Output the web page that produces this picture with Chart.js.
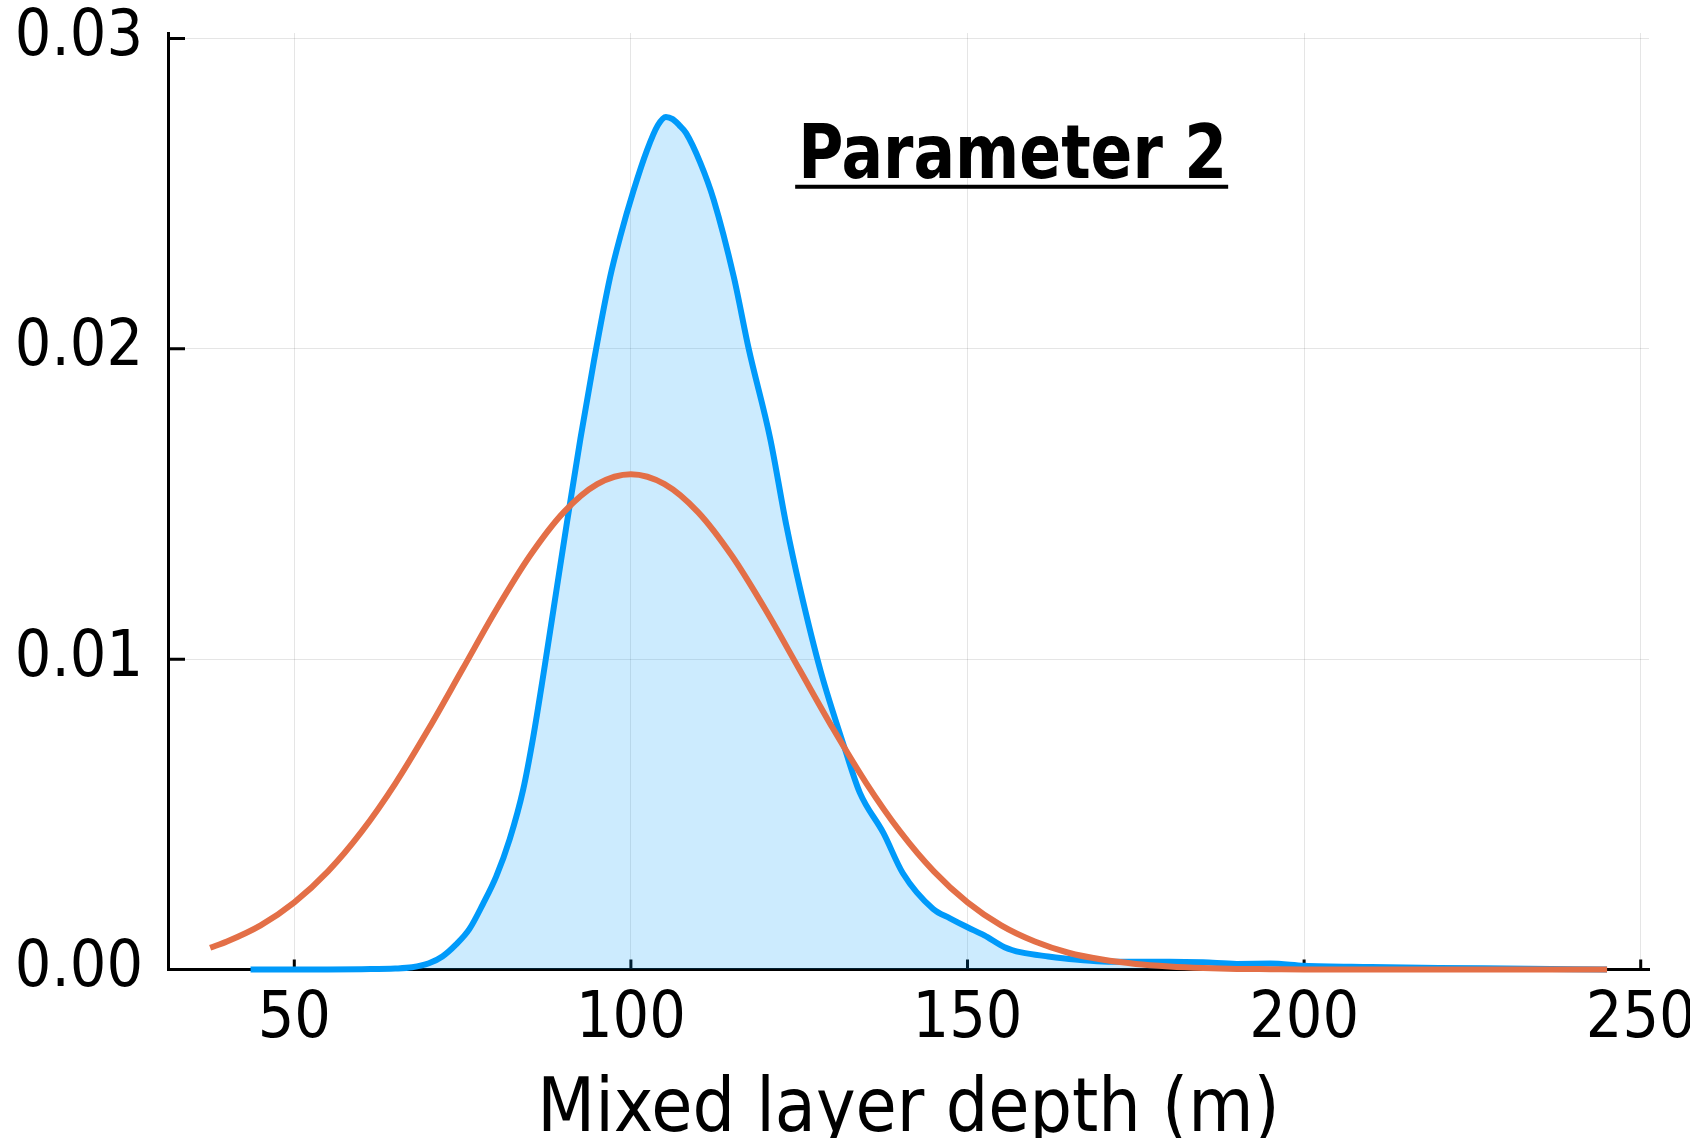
<!DOCTYPE html>
<html><head><meta charset="utf-8">
<script src="https://cdn.jsdelivr.net/npm/chart.js@4/dist/chart.umd.min.js"></script>
<style>html,body{margin:0;padding:0;background:#fff;overflow:hidden}</style>
</head><body>
<canvas id="c" width="1690" height="1138"></canvas>
<script>
// ---- data ----
const xTicks = [50, 100, 150, 200, 250];
const yTicks = [0, 0.01, 0.02, 0.03];
const xTitle = 'Mixed layer depth (m)';
const panelTitle = 'Parameter 2';

// kernel density (blue, filled)
const kdeX = [43.5,50,55,60,65,67.5,70,72,74,76,78,80,82,84,85.5,87,88.5,90.5,92.5,94.5,96.9,98.4,100.4,102.4,104,105.2,106.2,107.2,108.2,110.3,112.3,115.3,117.5,120.7,123.1,125.1,128.2,131.8,134,137.5,140.4,144.9,147.4,150,152.5,155.5,158,162,166,170,175,180,185,190,195,200,210,220,230,240,245];
const kdeY = [0,0,0,0.00001,0.00003,0.00007,0.0002,0.00042,0.0008,0.0013,0.0021,0.003,0.0042,0.0058,0.0075,0.0095,0.0116,0.0144,0.0171,0.0196,0.0223,0.0236,0.0251,0.0264,0.0272,0.02747,0.0274,0.0272,0.02695,0.0260,0.0248,0.0223,0.0200,0.0171,0.0143,0.0123,0.0096,0.0071,0.0057,0.0044,0.0031,0.00195,0.00165,0.00136,0.0011,0.00072,0.00055,0.00042,0.00032,0.00026,0.00025,0.00025,0.00023,0.00018,0.00019,0.00012,0.00008,0.00005,0.00003,0.00001,0];

// fitted curve (orange)
const fitX = [37.5,40,45,50,55,60,65,70,75,80,85,90,95,100,105,110,115,120,125,130,135,140,145,150,155,160,165,170,175,180,185,190,195,200,210,220,230,240,245];
const fitY = [0.0007,0.0009,0.00142,0.00216,0.00316,0.00444,0.00599,0.00777,0.00968,0.01159,0.01333,0.01473,0.01564,0.01596,0.01564,0.01473,0.01333,0.01159,0.00968,0.00777,0.00599,0.00444,0.00316,0.00216,0.00142,0.0009,0.00054,0.00032,0.00018,0.0001,0.00005,0.00002,0.00001,0,0,0,0,0,0];

const BLUE = '#009AFA', ORANGE = '#E36F47';
const FAM = '"DejaVu Sans Condensed", "DejaVu Sans", sans-serif';

const toPts = (xs, ys) => xs.map((x, i) => ({x, y: ys[i]}));
const noPad = s => { s.paddingLeft = 0; s.paddingRight = 0; s.paddingTop = 0; s.paddingBottom = 0; };

const inwardTicks = {
  id: 'inwardTicks',
  beforeDatasetsDraw(chart) {
    const {ctx, chartArea: a, scales: {x, y}} = chart;
    ctx.save();
    ctx.strokeStyle = '#000';
    ctx.lineWidth = 3;
    ctx.beginPath();
    xTicks.forEach(v => { const p = x.getPixelForValue(v); ctx.moveTo(p, a.bottom); ctx.lineTo(p, a.bottom - 10); });
    yTicks.forEach(v => { const p = y.getPixelForValue(v); ctx.moveTo(a.left, p); ctx.lineTo(a.left + 17, p); });
    ctx.stroke();
    ctx.restore();
  }
};

const annot = {
  id: 'annot',
  afterDatasetsDraw(chart) {
    const {ctx, scales: {x, y}} = chart;
    const left = x.getPixelForValue(124.4);
    const base = y.getPixelForValue(0.02551);
    const w = 433;
    ctx.save();
    ctx.fillStyle = '#000';
    ctx.font = 'bold 75px "DejaVu Sans Condensed", "DejaVu Sans", sans-serif';
    ctx.textBaseline = 'alphabetic';
    ctx.textAlign = 'left';
    ctx.fillText(panelTitle, left + 3, base, w - 4);
    ctx.fillRect(left, base + 7, w, 4);
    ctx.restore();
  }
};

new Chart(document.getElementById('c'), {
  type: 'line',
  data: {
    datasets: [
      { data: toPts(fitX, fitY), borderColor: ORANGE, borderWidth: 6, pointRadius: 0, fill: false, cubicInterpolationMode: 'monotone', clip: false },
      { data: toPts(kdeX, kdeY), borderColor: BLUE, borderWidth: 6, pointRadius: 0, fill: 'origin', backgroundColor: 'rgba(0,154,250,0.2)', cubicInterpolationMode: 'monotone', clip: false }
    ]
  },
  options: {
    responsive: false,
    animation: false,
    devicePixelRatio: 1,
    layout: { padding: { left: 0, right: 41, top: 33, bottom: 0 } },
    plugins: { legend: { display: false }, tooltip: { enabled: false }, title: { display: false } },
    scales: {
      x: {
        type: 'linear', min: 31.24, max: 251.23,
        afterBuildTicks: s => { s.ticks = xTicks.map(v => ({value: v})); },
        afterFit: s => { s.height = 168.5; noPad(s); },
        ticks: { color: '#000', font: { family: FAM, size: 64, lineHeight: 1.2 }, padding: 12, maxRotation: 0, autoSkip: false, callback: v => String(v) },
        grid: { color: 'rgba(0,0,0,0.1)', lineWidth: 1, drawTicks: false },
        border: { display: true, color: '#000', width: 3 },
        title: { display: true, text: xTitle, color: '#000', font: { family: FAM, size: 74.5, lineHeight: 0.7 }, padding: 0 }
      },
      y: {
        type: 'linear', min: 0, max: 0.030174,
        afterBuildTicks: s => { s.ticks = yTicks.map(v => ({value: v})); },
        afterFit: s => { s.width = 168; noPad(s); },
        ticks: { color: '#000', font: { family: FAM, size: 64 }, padding: 25, callback: v => v.toFixed(2) },
        grid: { color: 'rgba(0,0,0,0.1)', lineWidth: 1, drawTicks: false },
        border: { display: true, color: '#000', width: 3 }
      }
    }
  },
  plugins: [inwardTicks, annot]
});
</script>
</body></html>
